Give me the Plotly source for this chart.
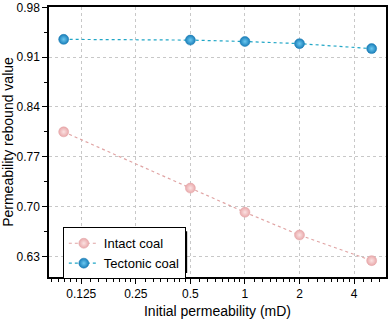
import numpy as np
import plotly.graph_objects as go

x_perm = [0.1, 0.5, 1, 2, 5]
intact = [0.805, 0.726, 0.692, 0.660, 0.624]
tectonic = [0.935, 0.934, 0.932, 0.929, 0.922]
x_ticks = [0.125, 0.25, 0.5, 1, 2, 4]
x_tick_text = ["0.125", "0.25", "0.5", "1", "2", "4"]
y_ticks = [0.63, 0.70, 0.77, 0.84, 0.91, 0.98]

# minor ticks: 7 per octave, linearly spaced in each octave
minor_x = []
for a in [0.0625, 0.125, 0.25, 0.5, 1, 2, 4]:
    for k in range(1, 8):
        v = a * (1 + k / 8)
        if 0.083 < v < 6.0:
            minor_x.append(v)
minor_y = [0.665, 0.735, 0.805, 0.875, 0.945]

fig = go.Figure()
fig.add_trace(go.Scatter(
    x=x_perm, y=intact, mode="lines+markers", name="Intact coal",
    line=dict(color="#e0a4a4", width=1.2, dash="dot"),
    marker=dict(size=10, color="#e9a9ab",
                gradient=dict(type="radial", color="#fbe2e2"),
                line=dict(color="#e3a3a5", width=0.5)),
))
fig.add_trace(go.Scatter(
    x=x_perm, y=tectonic, mode="lines+markers", name="Tectonic coal",
    line=dict(color="#20a6c6", width=1.2, dash="dot"),
    marker=dict(size=10, color="#1a7fba",
                gradient=dict(type="radial", color="#6cc8f0"),
                line=dict(color="#1879b0", width=0.5)),
))

fig.update_layout(
    width=389, height=322,
    margin=dict(l=49, r=1, t=5, b=45),
    paper_bgcolor="white", plot_bgcolor="white",
    font=dict(family="Liberation Sans, Arial, sans-serif", color="black", size=12),
    showlegend=True,
    legend=dict(x=0.041, y=0.184, xanchor="left", yanchor="top",
                bgcolor="white", bordercolor="black", borderwidth=1,
                font=dict(size=13), tracegroupgap=0, itemwidth=30),
)
fig.update_xaxes(
    type="log", range=[np.log10(0.083), np.log10(6.0)],
    tickvals=x_ticks, ticktext=x_tick_text,
    ticks="outside", ticklen=5, tickwidth=1, tickcolor="black",
    showline=True, linecolor="black", linewidth=1.5, mirror=True,
    showgrid=True, gridcolor="#c8c8c8", griddash="dot", gridwidth=1,
    zeroline=False,
    minor=dict(tickvals=minor_x, ticks="outside", ticklen=3, tickcolor="black", showgrid=False),
    title=dict(text="Initial permeability (mD)", font=dict(size=14), standoff=6),
    tickfont=dict(size=12),
)
fig.update_yaxes(
    range=[0.601, 0.9805],
    tickvals=y_ticks, ticktext=[f"{v:.2f}" for v in y_ticks],
    ticks="outside", ticklen=5, tickwidth=1, tickcolor="black",
    showline=True, linecolor="black", linewidth=1.5, mirror=True,
    showgrid=True, gridcolor="#c8c8c8", griddash="dot", gridwidth=1,
    zeroline=False, ticklabeloverflow="allow",
    minor=dict(tickvals=minor_y, ticks="outside", ticklen=3, tickcolor="black", showgrid=False),
    title=dict(text="Permeability rebound value", font=dict(size=14), standoff=4),
    tickfont=dict(size=12),
)
# legend shadow
fig.add_shape(type="rect", xref="paper", yref="paper",
              x0=0.053, x1=0.41, y0=0.015, y1=0.169,
              fillcolor="black", line=dict(width=0), layer="above")
fig.write_html("out.html")
